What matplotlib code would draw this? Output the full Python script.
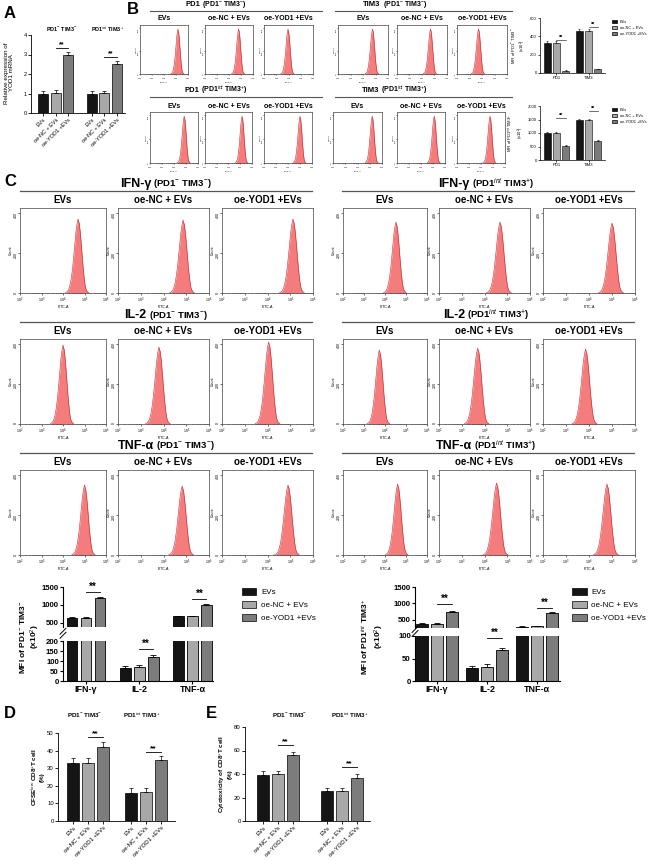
import numpy as np
import matplotlib
matplotlib.use('Agg')
from matplotlib import pyplot as plt
from matplotlib.lines import Line2D
from matplotlib.patches import Patch
from matplotlib.ticker import LogLocator, NullFormatter

plt.rcParams['font.family'] = ['Liberation Sans', 'DejaVu Sans']
plt.rcParams['mathtext.fontset'] = 'custom'
plt.rcParams['mathtext.rm'] = 'Liberation Sans'
plt.rcParams['mathtext.it'] = 'Liberation Sans:italic'
plt.rcParams['mathtext.bf'] = 'Liberation Sans:bold'

W, H = 650, 865

groups = ['EVs', 'oe-NC + EVs', 'oe-YOD1 +EVs']
bar_colors = ['#151515', '#a8a8a8', '#7c7c7c']
NEG = r'PD1$^{-}$ TIM3$^{-}$'
INT = r'PD1$^{int}$ TIM3$^{+}$'

# A: YOD1 mRNA
a_vals = [[1.0, 1.05, 2.95], [1.0, 1.03, 2.52]]
a_err = [[0.12, 0.12, 0.16], [0.12, 0.12, 0.14]]

# B: MFI bars (x10^2)
b_markers = ['PD1', 'TIM3']
b_neg_vals = [[330, 330, 25], [460, 460, 40]]
b_neg_err = [[15, 18, 6], [15, 15, 8]]
b_int_vals = [[1000, 1000, 520], [1500, 1500, 720]]
b_int_err = [[20, 20, 20], [20, 20, 20]]

# B histogram peak positions (log10 FITC-A): PD1 x3, TIM3 x3
b_peaks_neg = [5.16, 4.80, 3.96, 4.76, 4.68, 3.72]
b_peaks_int = [4.85, 5.15, 5.00, 5.20, 5.10, 4.75]

# C histograms: peak position (log10) and height (count)
cytokines = ['IFN-γ', 'IL-2', 'TNF-α']
c_peaks_neg = [[4.70, 4.86, 5.12], [4.00, 3.80, 4.05], [5.00, 4.82, 4.90]]
c_peaks_int = [[4.52, 4.68, 5.00], [3.73, 3.70, 3.85], [4.60, 4.53, 4.78]]
c_height_neg = [[370, 365, 370], [395, 385, 410], [350, 345, 350]]
c_height_int = [[355, 355, 350], [370, 380, 375], [355, 360, 355]]

# shape of one histogram (offset in log10, relative count)
prof_offsets = [-0.6, -0.5, -0.45, -0.4, -0.35, -0.3, -0.25, -0.2, -0.15, -0.1, -0.05,
                0.0, 0.03, 0.05, 0.1, 0.15, 0.2, 0.25, 0.3, 0.35, 0.4, 0.5]
prof_shape = [0.0, 0.02, 0.04, 0.08, 0.14, 0.23, 0.35, 0.5, 0.66, 0.82, 0.93,
              1.0, 0.96, 0.95, 0.83, 0.66, 0.47, 0.3, 0.16, 0.07, 0.03, 0.0]

# C: MFI bars (x10^2)
c_neg_vals = [[650, 650, 1200], [65, 70, 122], [680, 680, 1010]]
c_neg_err = [[20, 20, 15], [10, 9, 6], [15, 15, 12]]
c_int_vals = [[370, 370, 750], [29, 32, 68], [290, 300, 710]]
c_int_err = [[30, 25, 20], [5, 5, 6], [25, 20, 15]]

# D: CFSE low, E: cytotoxicity
d_vals = [[33, 33.2, 42.3], [16, 16.3, 34.5]]
d_err = [[2.6, 2.6, 2.8], [2.6, 2.5, 2.6]]
e_vals = [[39.5, 39.6, 56], [25.5, 25.8, 37]]
e_err = [[2.7, 2.7, 2.6], [2.5, 2.6, 2.7]]

fig = plt.figure(figsize=(6.5, 8.65), dpi=100)
renderer = fig.canvas.get_renderer()


def px_ax(x0, y0, x1, y1):
    return fig.add_axes([x0 / W, 1 - y1 / H, (x1 - x0) / W, (y1 - y0) / H])


def ftext(x, y, s, **kw):
    return fig.text(x / W, 1 - y / H, s, **kw)


def hline(x0, x1, y, lw=0.9):
    fig.add_artist(Line2D([x0 / W, x1 / W], [1 - y / H] * 2, color='#555555', lw=lw))


def title_pair(cx, y, main, sub, fs1, fs2, gap=2):
    t1 = ftext(0, y, main, fontsize=fs1, fontweight='bold', va='center', ha='left')
    t2 = ftext(0, y, sub, fontsize=fs2, fontweight='bold', va='center', ha='left')
    w1 = t1.get_window_extent(renderer).width
    w2 = t2.get_window_extent(renderer).width
    left = cx - (w1 + w2 + gap) / 2
    t1.set_x(left / W)
    t2.set_x((left + w1 + gap) / W)


def prism(ax, fs, lw=0.7):
    for s in ['top', 'right']:
        ax.spines[s].set_visible(False)
    for s in ['left', 'bottom']:
        ax.spines[s].set_linewidth(lw)
    ax.tick_params(length=2, width=lw, labelsize=fs, pad=1)


def draw_bars(ax, positions, vals, errs, width, lw=0.6, cap=1.5):
    for gi in range(len(vals)):
        for j in range(3):
            x = positions[gi][j]
            ax.bar(x, vals[gi][j], width, color=bar_colors[j], edgecolor='black', lw=lw, zorder=2)
            ax.errorbar(x, vals[gi][j], yerr=[[0], [errs[gi][j]]], color='black',
                        capsize=cap, lw=lw, capthick=lw, zorder=3)


def sig(ax, x0, x1, y, fs, lw=0.6):
    ax.plot([x0, x1], [y, y], color='black', lw=lw, clip_on=False)
    ax.text((x0 + x1) / 2, y, '**', ha='center', va='bottom', fontsize=fs,
            fontweight='bold', clip_on=False)


def draw_hist(ax, peak, height, fs, ticklen=1.2):
    xs = 10 ** (peak + np.array(prof_offsets))
    ys = height * np.array(prof_shape)
    ax.fill_between(xs, ys, color='#f47c7c', lw=0)
    ax.plot(xs, ys, color='#c8282e', lw=0.4)
    ax.set_xscale('log')
    ax.set_xlim(1e2, 1e6)
    ax.set_ylim(0, 425)
    ax.xaxis.set_major_locator(LogLocator(base=10, numticks=10))
    ax.xaxis.set_minor_locator(LogLocator(base=10, subs=np.arange(2, 10), numticks=20))
    ax.xaxis.set_minor_formatter(NullFormatter())
    ax.set_yticks([0, 200, 400])
    ax.tick_params(labelsize=fs, length=ticklen, width=0.4, pad=0.4)
    ax.tick_params(axis='y', labelrotation=90)
    ax.tick_params(which='minor', length=ticklen * 0.6, width=0.3)
    for s in ax.spines.values():
        s.set_linewidth(0.5)
        s.set_color('#444444')
    ax.set_ylabel('Count', fontsize=fs, labelpad=0.3)
    ax.set_xlabel('FITC-A', fontsize=fs, labelpad=0)


def legend_at(x, y, fs, hl=1.6, hh=0.8, sp=0.5):
    handles = [Patch(facecolor=c, edgecolor='black', lw=0.5) for c in bar_colors]
    fig.legend(handles, groups, loc='upper left', bbox_to_anchor=(x / W, 1 - y / H),
               frameon=False, fontsize=fs, handlelength=hl, handleheight=hh,
               labelspacing=sp, borderaxespad=0, borderpad=0, handletextpad=0.6)


# ---------------- panel letters
for letter, x, y in [('A', 4, 13), ('B', 127, 10), ('C', 4, 181), ('D', 4, 714), ('E', 206, 714)]:
    ftext(x, y, letter, fontsize=12, fontweight='bold', va='center', ha='left')

# ---------------- A
ax = px_ax(31, 35, 125, 113)
pos_a = [[0, 1, 2], [3.9, 4.9, 5.9]]
draw_bars(ax, pos_a, a_vals, a_err, 0.8, lw=0.5, cap=1.2)
ax.set_xlim(-0.96, 6.56)
ax.set_ylim(0, 4)
ax.set_yticks([0, 1, 2, 3, 4])
ax.set_xticks(pos_a[0] + pos_a[1])
ax.set_xticklabels(groups * 2, rotation=45, ha='right', rotation_mode='anchor')
prism(ax, 4, lw=0.6)
sig(ax, 1, 2, 3.33, 5)
sig(ax, 4.9, 5.9, 2.87, 5)
ftext(62, 29, NEG, fontsize=4, fontweight='bold', ha='center', va='center')
ftext(108, 29, INT, fontsize=4, fontweight='bold', ha='center', va='center')
ftext(9, 73, 'Relative expression of\nYOD1 mRNA', fontsize=4.5, rotation=90,
      ha='center', va='center', linespacing=1.1)

# ---------------- B histograms
b_rows = [
    (NEG, b_peaks_neg, 5, 11, 18, 25, 74,
     [(140, 188), (205, 253), (264, 313), (338, 388), (397, 447), (457, 507)]),
    (INT, b_peaks_int, 90, 97, 106, 112, 163,
     [(150, 198), (205, 252), (264, 312), (333, 382), (397, 445), (457, 505)]),
]
for pop, peaks, ty, ly, sy, y0, y1, boxes in b_rows:
    title_pair(216, ty, 'PD1', '(' + pop + ')', 5.5, 5)
    title_pair(395, ty, 'TIM3', '(' + pop + ')', 5.5, 5)
    hline(150, 322, ly, lw=0.8)
    hline(335, 512, ly, lw=0.8)
    for k, (x0, x1) in enumerate(boxes):
        ftext((x0 + x1) / 2, sy, groups[k % 3], fontsize=5, fontweight='bold', ha='center', va='center')
        hax = px_ax(x0, y0, x1, y1)
        draw_hist(hax, peaks[k], 390, 1.7, ticklen=0.7)

# ---------------- B bars
for vals, errs, y0, y1, ymax, yt, sig_y, lab, ly in [
        (b_neg_vals, b_neg_err, 18, 73, 600, [0, 200, 400, 600], [360, 500], NEG, 20),
        (b_int_vals, b_int_err, 106, 160, 2000, [0, 500, 1000, 1500, 2000], [1555, 1815], INT, 108)]:
    ax = px_ax(540, y0, 605, y1)
    pos_b = [[0, 1, 2], [3.5, 4.5, 5.5]]
    draw_bars(ax, pos_b, vals, errs, 0.8, lw=0.4, cap=1)
    ax.set_xlim(-0.8, 6.3)
    ax.set_ylim(0, ymax)
    ax.set_yticks(yt)
    ax.set_xticks([1, 4.5])
    ax.set_xticklabels(b_markers)
    prism(ax, 3, lw=0.5)
    ax.tick_params(length=1.2)
    ax.set_ylabel('MFI of ' + lab + '\n(x10$^{2}$)', fontsize=3, labelpad=1.5, linespacing=1.1)
    sig(ax, 1, 2, sig_y[0], 4, lw=0.4)
    sig(ax, 4.5, 5.5, sig_y[1], 4, lw=0.4)
    legend_at(612, ly, 2.8, hl=1.4, hh=0.7, sp=0.5)

# ---------------- C histograms
c_left = [(20, 106), (118, 209), (222, 313)]
c_right = [(343, 427), (439, 530), (543, 635)]
for r in range(3):
    dy = 131 * r
    for pop, boxes, cx, lx, peaks, heights in [
            (NEG, c_left, 166, (20, 312), c_peaks_neg, c_height_neg),
            (INT, c_right, 486, (342, 634), c_peaks_int, c_height_int)]:
        title_pair(cx, 184 + dy, cytokines[r], '(' + pop + ')', 9, 6.8)
        hline(lx[0], lx[1], 191 + dy)
        for k, (x0, x1) in enumerate(boxes):
            ftext((x0 + x1) / 2, 200 + dy, groups[k], fontsize=7, fontweight='bold',
                  ha='center', va='center')
            hax = px_ax(x0, 208 + dy, x1, 293 + dy)
            draw_hist(hax, peaks[r][k], heights[r][k], 2.6)

# ---------------- C bars (broken axis)
c_charts = [
    dict(x0=63, x1=213, top=(587, 626.5, 400, 1500), low=(641, 681, 0, 200),
         lowticks=[0, 50, 100, 150, 200], vals=c_neg_vals, errs=c_neg_err,
         pos=[[0, 1, 2], [3.8, 4.8, 5.8], [7.6, 8.6, 9.6]], xlim=(-0.64, 10.07), width=0.76,
         sigs=[('top', 1361), ('low', 160), ('top', 1167)], lab=NEG, ylab_x=30, leg_x=242),
    dict(x0=415, x1=560, top=(587, 628, 250, 1500), low=(636, 681, 0, 100),
         lowticks=[0, 50, 100], vals=c_int_vals, errs=c_int_err,
         pos=[[0, 1, 2], [3.33, 4.33, 5.33], [6.67, 7.67, 8.67]], xlim=(-0.47, 9.2), width=0.8,
         sigs=[('top', 985), ('low', 95), ('top', 864)], lab=INT, ylab_x=373, leg_x=572),
]
for ch in c_charts:
    ty0, ty1, tlo, thi = ch['top']
    ly0, ly1, llo, lhi = ch['low']
    ax_t = px_ax(ch['x0'], ty0, ch['x1'], ty1)
    ax_l = px_ax(ch['x0'], ly0, ch['x1'], ly1)
    for a in (ax_t, ax_l):
        draw_bars(a, ch['pos'], ch['vals'], ch['errs'], ch['width'], lw=0.6, cap=2)
        a.set_xlim(*ch['xlim'])
        prism(a, 5.6, lw=0.8)
    ax_t.set_ylim(tlo, thi)
    ax_t.set_yticks([500, 1000, 1500])
    ax_t.spines['bottom'].set_visible(False)
    ax_t.set_xticks([])
    ax_l.set_ylim(llo, lhi)
    ax_l.set_yticks(ch['lowticks'])
    ax_l.set_xticks([p[1] for p in ch['pos']])
    ax_l.set_xticklabels(cytokines, fontsize=6.5, fontweight='bold')
    for a in (ax_t, ax_l):
        for lbl in a.get_yticklabels():
            lbl.set_fontweight('bold')
    for gi, (where, y) in enumerate(ch['sigs']):
        a = ax_t if where == 'top' else ax_l
        sig(a, ch['pos'][gi][1], ch['pos'][gi][2], y, 7)
    # break marks on the y axis
    mid = (ty1 + ly0) / 2
    for off in (-2.5, 1.5):
        fig.add_artist(Line2D([(ch['x0'] - 3) / W, (ch['x0'] + 3) / W],
                              [1 - (mid + off + 3) / H, 1 - (mid + off - 3) / H],
                              color='black', lw=0.7))
    ftext(ch['ylab_x'], (ty0 + ly1) / 2 + 3, 'MFI of ' + ch['lab'] + '\n(x10$^{2}$)',
          fontsize=6, fontweight='bold', rotation=90, ha='center', va='center', linespacing=1.2)
    legend_at(ch['leg_x'], 588, 5.8, hl=1.8, hh=0.9, sp=0.6)

# ---------------- D and E
for vals, errs, box, pos, xlim, ylim, yt, titles_x, sig_y, ylab, ylab_x in [
        (d_vals, d_err, (58, 733, 175, 821), [[0, 1, 2], [3.87, 4.87, 5.87]], (-1.0, 6.8),
         50, [0, 10, 20, 30, 40, 50], (85, 142), (47.7, 39.2),
         r'CFSE$^{low}$ CD8$^{+}$T cell' + '\n(%)', 37),
        (e_vals, e_err, (245, 727, 370, 821), [[0, 1, 2], [4.27, 5.27, 6.27]], (-1.2, 7.13),
         80, [0, 20, 40, 60, 80], (290, 350), (64.7, 46),
         r'Cytotoxicity of CD8$^{+}$T cell' + '\n(%)', 225)]:
    ax = px_ax(*box)
    draw_bars(ax, pos, vals, errs, 0.8, lw=0.5, cap=1.5)
    ax.set_xlim(*xlim)
    ax.set_ylim(0, ylim)
    ax.set_yticks(yt)
    ax.set_xticks(pos[0] + pos[1])
    ax.set_xticklabels(groups * 2, rotation=45, ha='right', rotation_mode='anchor')
    prism(ax, 4.3, lw=0.6)
    sig(ax, pos[0][1], pos[0][2], sig_y[0], 6)
    sig(ax, pos[1][1], pos[1][2], sig_y[1], 6)
    ftext(titles_x[0], 715, NEG, fontsize=4.5, fontweight='bold', ha='center', va='center')
    ftext(titles_x[1], 715, INT, fontsize=4.5, fontweight='bold', ha='center', va='center')
    ftext(ylab_x, (box[1] + box[3]) / 2, ylab, fontsize=4.5, fontweight='bold', rotation=90,
          ha='center', va='center', linespacing=1.2)

fig.savefig('out.png', dpi=100)
